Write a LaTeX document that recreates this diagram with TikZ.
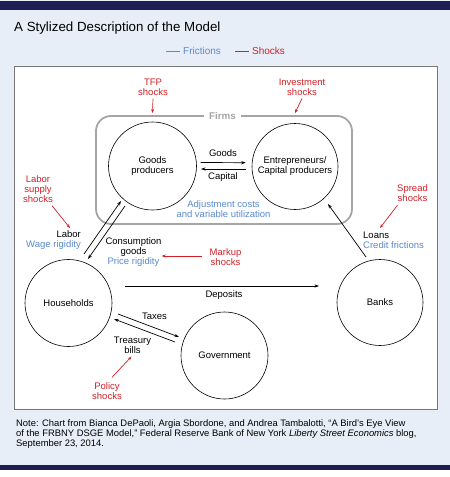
\documentclass[tikz,border=0pt]{standalone}
\usepackage{fontspec}
\setmainfont{Liberation Sans}
\usetikzlibrary{arrows.meta,calc}
\definecolor{navy}{RGB}{28,30,84}
\definecolor{bgblue}{RGB}{232,238,247}
\definecolor{fricblue}{RGB}{90,138,205}
\definecolor{shockred}{RGB}{208,32,40}
\definecolor{firmgray}{RGB}{165,165,165}
\definecolor{boxgray}{RGB}{120,120,120}
\begin{document}
\begin{tikzpicture}[x=1pt,y=-1pt,
  agent/.style={circle,draw,line width=0.6pt,minimum size=87pt,inner sep=0pt,align=center,font=\fontsize{9.5}{10}\selectfont},
  lbl/.style={font=\fontsize{9.5}{10}\selectfont,align=center,inner sep=0pt},
  shock/.style={lbl,text=shockred},
  fric/.style={lbl,text=fricblue},
  flow/.style={-{Stealth[length=4.5pt,width=3.2pt]},line width=0.7pt},
  shockarrow/.style={-{Stealth[length=4pt,width=3pt]},line width=0.7pt,draw=shockred}]
\useasboundingbox (0,0) rectangle (450,477);
% background
\fill[bgblue] (0,0) rectangle (450,477);
\fill[navy] (0,1) rectangle (450,10);
\fill[navy] (0,465) rectangle (450,470);
\fill[white] (0,470) rectangle (450,477);
\draw[boxgray,line width=1pt,fill=white] (14,66) rectangle (437,409);
% title and legend
\node[anchor=base west,inner sep=0pt,font=\fontsize{13.3}{15}\selectfont] (title) at (14,31.7) {A Stylized Description of the Model};
\draw[fricblue,line width=0.8pt] (166,51) -- (180,51);
\node[anchor=base west,inner sep=0pt,text=fricblue,font=\fontsize{10}{12}\selectfont] (legf) at (183,54.3) {Frictions};
\draw[shockred,line width=0.8pt] (235,51) -- (249,51);
\node[anchor=base west,inner sep=0pt,text=shockred,font=\fontsize{10}{12}\selectfont] (legs) at (252,54.3) {Shocks};
% firms box
\draw[firmgray,line width=1.8pt,rounded corners=15pt] (96,116) rectangle (352,224);
\node[fill=white,inner xsep=5pt,inner ysep=1pt,text=firmgray,font=\bfseries\fontsize{9.8}{10}\selectfont] (firms) at (222.5,116) {Firms};
% agents
\node[agent,minimum size=88pt] (gp) at (152.5,166) {Goods\\producers};
\node[agent,minimum size=86pt] (ep) at (295,166.5) {Entrepreneurs/\\Capital producers};
\node[agent] (hh) at (68.5,303) {Households};
\node[agent] (gov) at (224.5,355.5) {Government};
\node[agent,minimum size=86pt] (bk) at (380,302.5) {Banks};
% firm flows
\draw[flow] ($(gp)+(48,-3.5)$) -- ($(ep)+(-49.3,-3.8)$);
\draw[flow] ($(ep)+(-49,2.5)$) -- ($(gp)+(48.5,3)$);
\node[lbl] (goodsl) at (223,153) {Goods};
\node[lbl] (capl) at (223,177.5) {Capital};
\node[fric] (adj) at (223.5,209) {Adjustment costs\\and variable utilization};
% top shocks
\node[shock] (tfp) at (153,87) {TFP\\shocks};
\draw[shockarrow] (tfp.south) ++(0,3) -- ($(gp)+(0,-53)$);
\node[shock] (inv) at (302,87) {Investment\\shocks};
\draw[shockarrow] (inv.south) ++(0,3) -- ($(ep)+(0,-53.5)$);
% households - goods producers
\draw[flow] ($(hh)+(15.5,-49)$) -- ($(gp)+(-31.5,35)$);
\draw[flow] ($(gp)+(-27.5,40)$) -- ($(hh)+(19.5,-44)$);
\node[lbl,anchor=east,align=right] (labl) at (81,240.5) {Labor\\\textcolor{fricblue}{Wage rigidity}};
\node[shock] (lss) at (38,189) {Labor\\supply\\shocks};
\coordinate (lssend) at (70,228);
\draw[shockarrow] ($(lss.south)+(14,3)$) -- (lssend);
\node[lbl] (cgl) at (133.5,252.5) {Consumption\\goods\\\textcolor{fricblue}{Price rigidity}};
\node[shock] (mk) at (225.5,257) {Markup\\shocks};
\draw[shockarrow] ($(mk.west)+(-7,-1)$) -- ($(cgl.east)+(0,3.5)$);
% loans
\draw[flow] ($(bk)+(-14,-45.5)$) -- ($(ep)+(33,37.5)$);
\node[lbl,anchor=west,align=left] (loanl) at (363,240.5) {Loans\\\textcolor{fricblue}{Credit frictions}};
\node[shock] (spr) at (412.5,193.5) {Spread\\shocks};
\coordinate (sprend) at (380,228);
\draw[shockarrow] ($(spr.south)+(-15,3)$) -- (sprend);
% deposits
\draw[flow] ($(hh)+(56.5,-17)$) -- ($(bk)+(-61,-16.5)$);
\node[lbl] (depl) at (224,295.5) {Deposits};
% government
\draw[flow] ($(hh)+(49.5,11)$) -- ($(gov)+(-45.5,-18.5)$);
\draw[flow] ($(gov)+(-49.5,-13.5)$) -- ($(hh)+(45.5,16)$);
\node[lbl] (taxl) at (154.5,316) {Taxes};
\node[lbl] (tbl) at (132.5,345) {Treasury\\bills};
\node[shock] (pol) at (107,391) {Policy\\shocks};
\draw[shockarrow] ($(pol.north)+(5,-5)$) -- ($(tbl.south)+(-1,3)$);
% note
\node[anchor=north west,align=left,inner sep=0pt,font=\fontsize{9.4}{10}\selectfont] (note) at (16,419.5) {Note: Chart from Bianca DePaoli, Argia Sbordone, and Andrea Tambalotti, “A Bird’s Eye View\\of the FRBNY DSGE Model,” Federal Reserve Bank of New York \textit{Liberty Street Economics} blog,\\September 23, 2014.};
\end{tikzpicture}
\end{document}
